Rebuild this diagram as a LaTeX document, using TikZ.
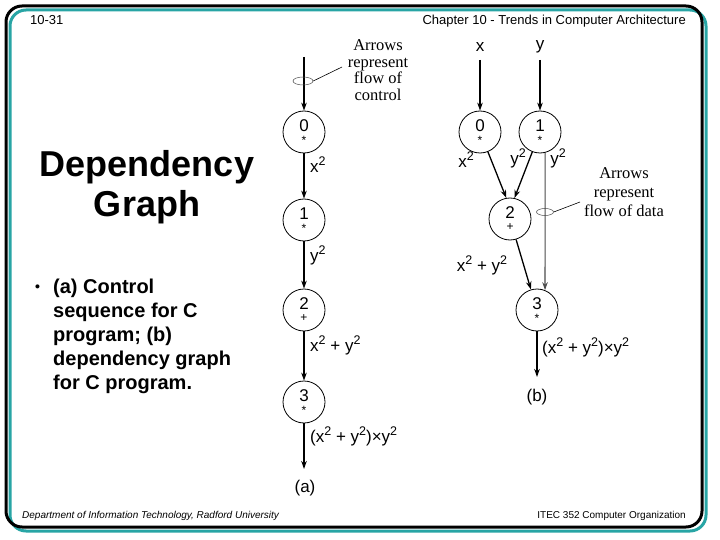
\documentclass[tikz,border=0pt]{standalone}
\usepackage{fontspec}
\setmainfont{Liberation Sans}
\newfontfamily\annfont{Liberation Serif}
\usetikzlibrary{arrows.meta,shapes.geometric}
\definecolor{frameteal}{RGB}{40,165,165}
\newcommand{\sqr}{\raisebox{0.42em}{\fontsize{12.5}{12}\selectfont 2}}
\begin{document}
\begin{tikzpicture}[x=1pt,y=-1pt,
  gnode/.style={circle,draw,line width=0.8pt,minimum size=42pt,inner sep=0pt},
  num/.style={font=\fontsize{17}{17}\selectfont,inner sep=0pt},
  op/.style={font=\fontsize{12}{12}\selectfont,inner sep=0pt},
  flow/.style={line width=1.3pt,-{Stealth[length=8pt,width=5.5pt]}},
  dflow/.style={line width=1.1pt,draw=black!70,-{Stealth[length=8pt,width=5.5pt,fill=black!70]}},
  lbl/.style={font=\fontsize{17}{17}\selectfont,inner sep=0pt},
  ann/.style={font=\annfont\fontsize{16.5}{16.7}\selectfont,align=center,inner sep=0pt},
  ringmark/.style={ellipse,draw=black!70,line width=0.5pt,inner sep=0pt},
  leader/.style={line width=0.6pt},
  hdr/.style={font=\fontsize{13}{13}\selectfont,inner sep=0pt},
  ftr/.style={font=\itshape\fontsize{10}{10}\selectfont,inner sep=0pt},
  ftrr/.style={font=\fontsize{10}{10}\selectfont,inner sep=0pt},
  ttl/.style={font=\bfseries\fontsize{36}{39}\selectfont,inner sep=0pt,anchor=base},
  bul/.style={font=\bfseries\fontsize{20}{24}\selectfont,inner sep=0pt,anchor=base west}
]
\useasboundingbox (0,0) rectangle (720,540);
\fill[white] (0,0) rectangle (720,540);
% frame
\draw[frameteal,line width=3pt,rounded corners=16pt] (10,10) rectangle (706,531);
\draw[black,line width=3pt,rounded corners=16pt] (6,6) rectangle (702,527);
% header / footer
\node[hdr,anchor=base west] (h1) at (30,24.5) {10-31};
\node[hdr,anchor=base east] (h2) at (686,24.5) {Chapter 10 - Trends in Computer Architecture};
\node[ftr,anchor=base west] (f1) at (22,518.5) {Department of Information Technology, Radford University};
\node[ftrr,anchor=base east] (f2) at (686,518.5) {ITEC 352 Computer Organization};
% title
\node[ttl] (t1) at (147,177) {Dependency};
\node[ttl] (t2) at (147,216) {Graph};
% bullet text
\node[font=\bfseries\fontsize{14}{14}\selectfont,inner sep=0pt,anchor=base west] (bu) at (35,291) {\textbullet};
\node[bul] (l1) at (53,293) {(a) Control};
\node[bul] (l2) at (53,317) {sequence for C};
\node[bul] (l3) at (53,341) {program; (b)};
\node[bul] (l4) at (53,365) {dependency graph};
\node[bul] (l5) at (53,389) {for C program.};
% ---------- (a) control sequence ----------
\coordinate (atop) at (304,57);
\node[gnode] (a0) at (304,132) {};
\node[gnode] (a1) at (304,220) {};
\node[gnode] (a2) at (304,310) {};
\node[gnode] (a3) at (304,402) {};
\coordinate (aend) at (304,469);
\node[num] (a0n) at ([yshift=6pt]a0.center) {0};
\node[op] (a0o) at ([yshift=-8.5pt]a0.center) {*};
\node[num] (a1n) at ([yshift=6pt]a1.center) {1};
\node[op] (a1o) at ([yshift=-8.5pt]a1.center) {*};
\node[num] (a2n) at ([yshift=6.5pt]a2.center) {2};
\node[op] (a2o) at ([yshift=-8pt]a2.center) {+};
\node[num] (a3n) at ([yshift=6pt]a3.center) {3};
\node[op] (a3o) at ([yshift=-8.5pt]a3.center) {*};
\draw[flow] (atop) -- (a0);
\draw[flow] (a0) -- (a1);
\draw[flow] (a1) -- (a2);
\draw[flow] (a2) -- (a3);
\draw[flow] (a3) -- (aend);
\node[lbl,anchor=west] (la1) at (310,165) {x\sqr};
\node[lbl,anchor=west] (la2) at (310,255) {y\sqr};
\node[lbl,anchor=west] (la3) at (310,345) {x\sqr{} + y\sqr};
\node[lbl,anchor=west] (la4) at (310,436) {(x\sqr{} + y\sqr)×y\sqr};
\node[lbl] (acap) at (305,488) {(a)};
\node[ringmark,minimum width=20pt,minimum height=8pt] (e1) at (303,81) {};
\coordinate (e1t) at (342,67);
\draw[leader] (e1.east) -- (e1t);
\node[ann] (ann1) at (378,70) {Arrows\\represent\\flow of\\control};
% ---------- (b) dependency graph ----------
\node[lbl] (xin) at (480,47) {x};
\node[lbl] (yin) at (540,47) {y};
\coordinate (xs) at (480,60);
\coordinate (ys) at (540,60);
\node[gnode] (b0) at (480,132) {};
\node[gnode] (b1) at (540,132) {};
\node[gnode] (b2) at (510,219) {};
\node[gnode] (b3) at (537,310) {};
\coordinate (bend) at (537,377);
\node[num] (b0n) at ([yshift=6pt]b0.center) {0};
\node[op] (b0o) at ([yshift=-8.5pt]b0.center) {*};
\node[num] (b1n) at ([yshift=6pt]b1.center) {1};
\node[op] (b1o) at ([yshift=-8.5pt]b1.center) {*};
\node[num] (b2n) at ([yshift=6.5pt]b2.center) {2};
\node[op] (b2o) at ([yshift=-8pt]b2.center) {+};
\node[num] (b3n) at ([yshift=6pt]b3.center) {3};
\node[op] (b3o) at ([yshift=-8.5pt]b3.center) {*};
\draw[flow] (xs) -- (b0);
\draw[flow] (ys) -- (b1);
\draw[flow] (b0) -- (b2.100);
\draw[flow] (b1) -- (b2.78);
\draw[dflow] (b1.-76) -- (b3.68);
\draw[flow] (b2) -- (b3);
\draw[flow] (b3) -- (bend);
\node[lbl] (lb1) at (466,160) {x\sqr};
\node[lbl] (lb2) at (518,158) {y\sqr};
\node[lbl] (lb3) at (558,158) {y\sqr};
\node[lbl] (lb4) at (482,265) {x\sqr{} + y\sqr};
\node[lbl,anchor=west] (lb5) at (542,347) {(x\sqr{} + y\sqr)×y\sqr};
\node[lbl] (bcap) at (537,397) {(b)};
\node[ringmark,minimum width=17pt,minimum height=7pt] (e2) at (545,212) {};
\coordinate (e2t) at (580,202);
\draw[leader] (e2.east) -- (e2t);
\node[ann,font=\annfont\fontsize{16.5}{19}\selectfont] (ann2) at (624,192) {Arrows\\represent\\flow of data};
\end{tikzpicture}
\end{document}
